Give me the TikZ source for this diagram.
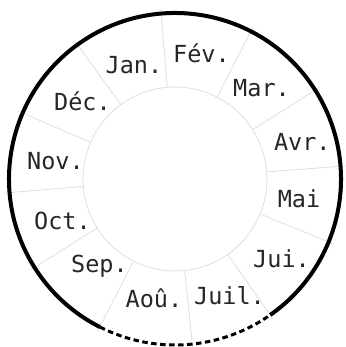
\documentclass[tikz,border=0pt]{standalone}
\usepackage{fontspec}
\usepackage{tikz}
\newfontfamily\monthfont{DejaVu Sans Mono}
\definecolor{SpokeGray}{RGB}{222,222,222}

\begin{document}
\begin{tikzpicture}[x=1pt,y=1pt,
        spoke/.style={draw=SpokeGray,line width=0.8pt},
        hub/.style={draw=SpokeGray,line width=0.8pt},
        rim/.style={draw=black,line width=4pt},
        gap/.style={draw=black,line width=3pt,dash pattern=on 5.5pt off 3.5pt},
        lbl/.style={font=\monthfont\fontsize{23.5}{26}\selectfont,
                    text=black!85,anchor=base,inner sep=0pt}
      ]
        \useasboundingbox (-175,-168) rectangle (170,179);
        \coordinate (O) at (0,0);
        % month boundaries
        \foreach \a in {94.8,62.8,32.4,4.4,-22.3,-55,-84,243.1,212.2,184.7,156.6,126}
          \draw[spoke] (\a:92) -- (\a:171);
        \draw[hub] (O) circle (92);
        % outer rim, open at the bottom
        \draw[rim] (-55:166) arc[start angle=-55,end angle=243.1,radius=166];
        \draw[gap] (243.1:166) arc[start angle=243.1,end angle=305,radius=166];
        \node[lbl] (jan) at (-41,105) {Jan.};
        \node[lbl] (fev) at (26.5,116.3) {Fév.};
        \node[lbl] (mar) at (86.5,82.3) {Mar.};
        \node[lbl] (avr) at (127.3,28.3) {Avr.};
        \node[lbl] (mai) at (124,-28.3) {Mai};
        \node[lbl] (jui) at (106.5,-88.7) {Jui.};
        \node[lbl] (juil) at (54.5,-125) {Juil.};
        \node[lbl] (aou) at (-21,-128.3) {Aoû.};
        \node[lbl] (sep) at (-75.5,-94) {Sep.};
        \node[lbl] (oct) at (-112.5,-50.3) {Oct.};
        \node[lbl] (nov) at (-119.5,9.7) {Nov.};
        \node[lbl] (dec) at (-92.5,68) {Déc.};
      \end{tikzpicture}
\end{document}
